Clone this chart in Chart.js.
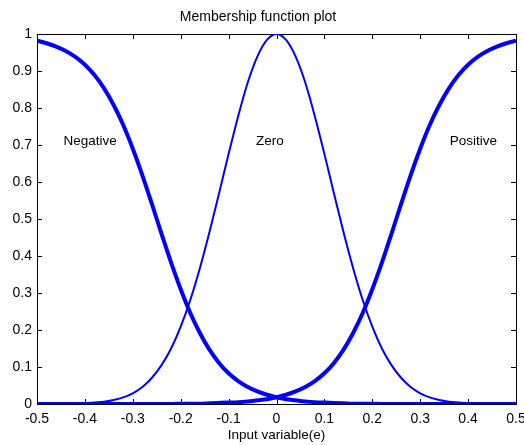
<!DOCTYPE html>
<html>
<head>
<meta charset="utf-8">
<script src="https://cdn.jsdelivr.net/npm/chart.js@4/dist/chart.umd.min.js"></script>
<style>
  html, body { margin: 0; padding: 0; background: #fff; }
  canvas { display: block; }
</style>
</head>
<body>
<canvas id="c" width="524" height="445"></canvas>
<script>
const chartTitle = "Membership function plot";
const xAxisTitle = "Input variable(e)";
const mfNames = ["Negative", "Zero", "Positive"];
const mfLabelX = [-0.389, -0.014, 0.411];
const mfLabelY = [0.71, 0.71, 0.71];

const xTickLabels = ["-0.5","-0.4","-0.3","-0.2","-0.1","0","0.1","0.2","0.3","0.4","0.5"];
const yTickLabels = ["0","0.1","0.2","0.3","0.4","0.5","0.6","0.7","0.8","0.9","1"];

const xValues = [-0.50,-0.48,-0.46,-0.44,-0.42,-0.40,-0.38,-0.36,-0.34,-0.32,
                 -0.30,-0.28,-0.26,-0.24,-0.22,-0.20,-0.18,-0.16,-0.14,-0.12,
                 -0.10,-0.08,-0.06,-0.04,-0.02, 0.00, 0.02, 0.04, 0.06, 0.08,
                  0.10, 0.12, 0.14, 0.16, 0.18, 0.20, 0.22, 0.24, 0.26, 0.28,
                  0.30, 0.32, 0.34, 0.36, 0.38, 0.40, 0.42, 0.44, 0.46, 0.48, 0.50];

const negativeValues = [0.982,0.975,0.966,0.954,0.938,0.917,0.889,0.853,0.808,0.754,
                        0.690,0.618,0.540,0.460,0.382,0.310,0.246,0.192,0.147,0.111,
                        0.083,0.062,0.046,0.034,0.025,0.018,0.013,0.010,0.007,0.005,
                        0.004,0.003,0.002,0.001,0.001,0.001,0.000,0.000,0.000,0.000,
                        0.000,0.000,0.000,0.000,0.000,0.000,0.000,0.000,0.000,0.000,0.000];

const zeroValues = [0.000,0.000,0.000,0.000,0.001,0.002,0.004,0.006,0.011,0.018,
                    0.029,0.046,0.071,0.105,0.150,0.209,0.281,0.367,0.464,0.569,
                    0.676,0.778,0.869,0.939,0.984,1.000,0.984,0.939,0.869,0.778,
                    0.676,0.569,0.464,0.367,0.281,0.209,0.150,0.105,0.071,0.046,
                    0.029,0.018,0.011,0.006,0.004,0.002,0.001,0.000,0.000,0.000,0.000];

const positiveValues = [0.000,0.000,0.000,0.000,0.000,0.000,0.000,0.000,0.000,0.000,
                        0.000,0.000,0.000,0.000,0.000,0.001,0.001,0.001,0.002,0.003,
                        0.004,0.005,0.007,0.010,0.013,0.018,0.025,0.034,0.046,0.062,
                        0.083,0.111,0.147,0.192,0.246,0.310,0.382,0.460,0.540,0.618,
                        0.690,0.754,0.808,0.853,0.889,0.917,0.938,0.954,0.966,0.975,0.982];

const seriesValues = [negativeValues, zeroValues, positiveValues];
const seriesWidths = [4, 2, 4];

const FONT = "'Liberation Sans', Arial, Helvetica, sans-serif";

function pts(vals) { return xValues.map((x, i) => ({ x: x, y: vals[i] })); }

const boxAndTicks = {
  id: 'boxAndTicks',
  beforeDatasetsDraw(chart) {
    const ctx = chart.ctx, a = chart.chartArea;
    const xs = chart.scales.x, ys = chart.scales.y;
    ctx.save();
    ctx.strokeStyle = '#000';
    ctx.lineWidth = 1;
    ctx.strokeRect(Math.round(a.left) + 0.5, Math.round(a.top) + 0.5,
                   Math.round(a.right - a.left), Math.round(a.bottom - a.top));
    const L = 5;
    ctx.beginPath();
    xs.ticks.forEach(t => {
      const px = Math.round(xs.getPixelForValue(t.value)) + 0.5;
      ctx.moveTo(px, a.bottom); ctx.lineTo(px, a.bottom - L);
      ctx.moveTo(px, a.top); ctx.lineTo(px, a.top + L);
    });
    ys.ticks.forEach(t => {
      const py = Math.round(ys.getPixelForValue(t.value)) + 0.5;
      ctx.moveTo(a.left, py); ctx.lineTo(a.left + L, py);
      ctx.moveTo(a.right, py); ctx.lineTo(a.right - L, py);
    });
    ctx.stroke();
    ctx.restore();
  },
  afterDatasetsDraw(chart) {
    const ctx = chart.ctx;
    const xs = chart.scales.x, ys = chart.scales.y;
    ctx.save();
    ctx.fillStyle = '#000';
    ctx.font = "13.5px " + FONT;
    ctx.textAlign = 'center';
    ctx.textBaseline = 'middle';
    mfNames.forEach((n, i) => {
      ctx.fillText(n, xs.getPixelForValue(mfLabelX[i]), ys.getPixelForValue(mfLabelY[i]));
    });
    ctx.restore();
  }
};

new Chart(document.getElementById('c'), {
  type: 'line',
  data: {
    datasets: mfNames.map((n, i) => ({
      label: n,
      data: pts(seriesValues[i]),
      borderColor: 'rgb(0,0,255)',
      backgroundColor: 'rgb(0,0,255)',
      borderWidth: seriesWidths[i],
      pointRadius: 0,
      fill: false,
      cubicInterpolationMode: 'monotone',
      borderCapStyle: 'butt',
      borderJoinStyle: 'round'
    }))
  },
  options: {
    responsive: false,
    animation: false,
    devicePixelRatio: 1,
    layout: { padding: { left: 0, right: 8, top: 0, bottom: 0 } },
    plugins: {
      legend: { display: false },
      tooltip: { enabled: false },
      title: {
        display: true,
        text: chartTitle,
        color: '#000',
        font: { family: FONT, size: 14, weight: 'normal' },
        padding: { top: 9, bottom: 8.2 }
      }
    },
    scales: {
      x: {
        type: 'linear',
        min: -0.5, max: 0.5,
        grid: { display: true, drawOnChartArea: false, drawTicks: false },
        border: { display: true, color: '#000', width: 1 },
        ticks: {
          stepSize: 0.1,
          color: '#000',
          padding: 7,
          maxRotation: 0,
          autoSkip: false,
          font: { family: FONT, size: 14 },
          callback: (v, i) => xTickLabels[i]
        },
        title: {
          display: true,
          text: xAxisTitle,
          color: '#000',
          font: { family: FONT, size: 13.5 },
          padding: { top: 0, bottom: 2 }
        },
        afterFit(s) { s.height = 41; s.paddingLeft = 0; s.paddingRight = 0; }
      },
      y: {
        type: 'linear',
        min: 0, max: 1,
        grid: { display: true, drawOnChartArea: false, drawTicks: false },
        border: { display: true, color: '#000', width: 1 },
        ticks: {
          stepSize: 0.1,
          color: '#000',
          padding: 5,
          autoSkip: false,
          font: { family: FONT, size: 14 },
          callback: (v, i) => yTickLabels[i]
        },
        afterFit(s) { s.width = 37; s.paddingTop = 0; s.paddingBottom = 0; }
      }
    }
  },
  plugins: [boxAndTicks]
});
</script>
</body>
</html>
